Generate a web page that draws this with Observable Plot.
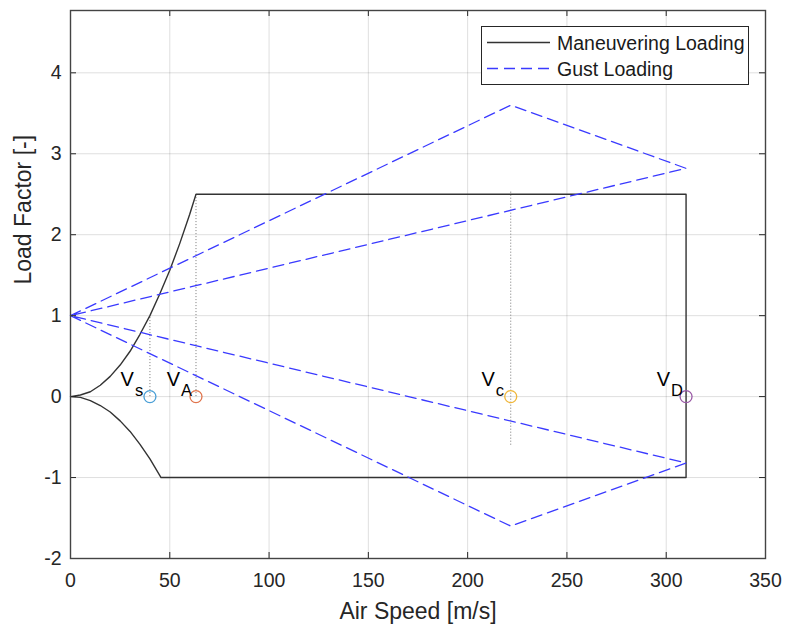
<!DOCTYPE html>
<html>
<head>
<meta charset="utf-8">
<script src="https://cdn.jsdelivr.net/npm/d3@7"></script>
<script src="https://cdn.jsdelivr.net/npm/@observablehq/plot@0.6"></script>
<style>
  html, body { margin: 0; padding: 0; background: #fff; }
  #fig { position: relative; width: 785px; height: 628px; font-family: "Liberation Sans", Arial, Helvetica, sans-serif; }
  #legend { position: absolute; left: 481px; top: 26px; }
</style>
</head>
<body>
<div id="fig"></div>
<script>
// ---- data ----
const speedTicks = [0, 50, 100, 150, 200, 250, 300, 350];
const speedTickLabels = ["0", "50", "100", "150", "200", "250", "300", "350"];
const loadTicks = [-2, -1, 0, 1, 2, 3, 4];
const loadTickLabels = ["-2", "-1", "0", "1", "2", "3", "4"];
const speedLimits = [0, 350];
const loadLimits = [-2, 4.77];

// positive stall curve (V, n)
const posCurveV = [0, 5, 10, 15, 20, 25, 30, 35, 40, 45, 50, 55, 60, 63.2];
const posCurveN = [0, 0.02, 0.06, 0.14, 0.25, 0.39, 0.56, 0.77, 1.0, 1.27, 1.56, 1.89, 2.25, 2.5];
// envelope corners after the positive curve
const cornerV = [310, 310];
const cornerN = [2.5, -1];
// negative stall curve (V, n), from the -1 corner back to the origin
const negCurveV = [45.6, 40, 35, 30, 25, 20, 15, 10, 5, 0];
const negCurveN = [-1.0, -0.77, -0.59, -0.43, -0.30, -0.19, -0.11, -0.05, -0.01, 0];

// gust loading lines
const gustV = [0, 221.7, 310, 0];
const gustUpperN = [1, 3.6, 2.82, 1];
const gustLowerN = [1, -1.6, -0.82, 1];

// characteristic speeds
const keyNames = ["s", "A", "c", "D"];
const keySpeeds = [40, 63.2, 221.7, 310];
const keyColors = ["#4a9fd6", "#e0744c", "#efb63a", "#9a5aa6"];

// dotted guide lines
const guideV = [40, 63.2, 221.7];
const guideLow = [0, 0, -0.6];
const guideHigh = [1, 2.5, 2.55];

const legendLabels = ["Maneuvering Loading", "Gust Loading"];
const xLabel = "Air Speed [m/s]";
const yLabel = "Load Factor [-]";

// ---- build tables ----
const envelope = [
  ...posCurveV.map((v, i) => ({v, n: posCurveN[i]})),
  ...cornerV.map((v, i) => ({v, n: cornerN[i]})),
  ...negCurveV.map((v, i) => ({v, n: negCurveN[i]}))
];
const gust = [
  ...gustV.map((v, i) => ({v, n: gustUpperN[i], g: "upper"})),
  ...gustV.map((v, i) => ({v, n: gustLowerN[i], g: "lower"}))
];
const keys = keyNames.map((name, i) => ({name, v: keySpeeds[i]}));
const guides = guideV.map((v, i) => ({v, lo: guideLow[i], hi: guideHigh[i]}));

const axisColor = "#262626";
const font = "'Liberation Sans', Arial, Helvetica, sans-serif";

const chart = Plot.plot({
  width: 785,
  height: 628,
  marginLeft: 70,
  marginRight: 20,
  marginTop: 10,
  marginBottom: 70,
  style: {fontFamily: font, background: "#fff", overflow: "visible"},
  x: {domain: speedLimits, ticks: speedTicks},
  y: {domain: loadLimits, ticks: loadTicks},
  color: {domain: keyNames, range: keyColors},
  marks: [
    Plot.gridX(speedTicks.slice(1, -1), {stroke: "#000", strokeOpacity: 0.13}),
    Plot.gridY(loadTicks.slice(1), {stroke: "#000", strokeOpacity: 0.13}),
    // dotted guides
    Plot.ruleX(guides, {x: "v", y1: "lo", y2: "hi", stroke: "#777", strokeDasharray: "1,2", strokeWidth: 1}),
    // maneuvering envelope
    Plot.line(envelope, {x: "v", y: "n", stroke: "#333", strokeWidth: 1.4, curve: "linear"}),
    // gust lines
    Plot.line(gust, {x: "v", y: "n", z: "g", stroke: "#3a3aff", strokeWidth: 1.3, strokeDasharray: "11,6"}),
    // key speed markers
    Plot.dot(keys, {x: "v", y: 0, r: 6, stroke: "name", fill: "none", strokeWidth: 1.3}),
    Plot.text(keys, {x: "v", y: 0, text: () => "V", textAnchor: "end", lineAnchor: "bottom", dx: -16, dy: -11, fontSize: 20, fill: "#000"}),
    Plot.text(keys, {x: "v", y: 0, text: "name", textAnchor: "start", lineAnchor: "bottom", dx: -15, dy: -1, fontSize: 16.5, fill: "#000"}),
    // axes
    Plot.axisX({ticks: speedTicks, tickFormat: d => speedTickLabels[speedTicks.indexOf(d)], tickSize: 0, tickPadding: 15, fontSize: 19.5, color: axisColor, label: null}),
    Plot.axisY({ticks: loadTicks, tickFormat: d => loadTickLabels[loadTicks.indexOf(d)], tickSize: 0, tickPadding: 9, fontSize: 19.5, color: axisColor, label: null}),
    // inward ticks on all four sides
    Plot.ruleX(speedTicks, {x: d => d, y1: loadLimits[0], y2: loadLimits[0], insetTop: -6, stroke: axisColor}),
    Plot.ruleX(speedTicks, {x: d => d, y1: loadLimits[1], y2: loadLimits[1], insetBottom: -6, stroke: axisColor}),
    Plot.ruleY(loadTicks, {y: d => d, x1: speedLimits[0], x2: speedLimits[0], insetRight: -6, stroke: axisColor}),
    Plot.ruleY(loadTicks, {y: d => d, x1: speedLimits[1], x2: speedLimits[1], insetLeft: -6, stroke: axisColor}),
    Plot.frame({stroke: "#444", strokeWidth: 1.4}),
    // axis labels
    Plot.text([xLabel], {frameAnchor: "bottom", text: d => d, lineAnchor: "bottom", dy: 60, fontSize: 23, fill: axisColor}),
    Plot.text([yLabel], {frameAnchor: "left", text: d => d, rotate: -90, lineAnchor: "bottom", dx: -40, fontSize: 23, fill: axisColor})
  ]
});

const fig = document.getElementById("fig");
fig.appendChild(chart);

// legend drawn inside the axes box (overlay)
const lg = d3.select(fig).append("svg")
  .attr("id", "legend")
  .attr("width", 269).attr("height", 60)
  .style("font-family", font);
lg.append("rect").attr("x", 0.5).attr("y", 0.5).attr("width", 267).attr("height", 58)
  .attr("fill", "#fff").attr("stroke", "#262626").attr("stroke-width", 1);
const styles = [{stroke: "#333", dash: null}, {stroke: "#3a3aff", dash: "11,6"}];
legendLabels.forEach((lab, i) => {
  const cy = 16.5 + i * 26;
  lg.append("line").attr("x1", 6).attr("x2", 69).attr("y1", cy).attr("y2", cy)
    .attr("stroke", styles[i].stroke).attr("stroke-width", 1.3)
    .attr("stroke-dasharray", styles[i].dash);
  lg.append("text").attr("x", 76).attr("y", cy + 7).attr("font-size", 19.5)
    .attr("fill", "#1a1a1a").text(lab);
});
</script>
</body>
</html>
